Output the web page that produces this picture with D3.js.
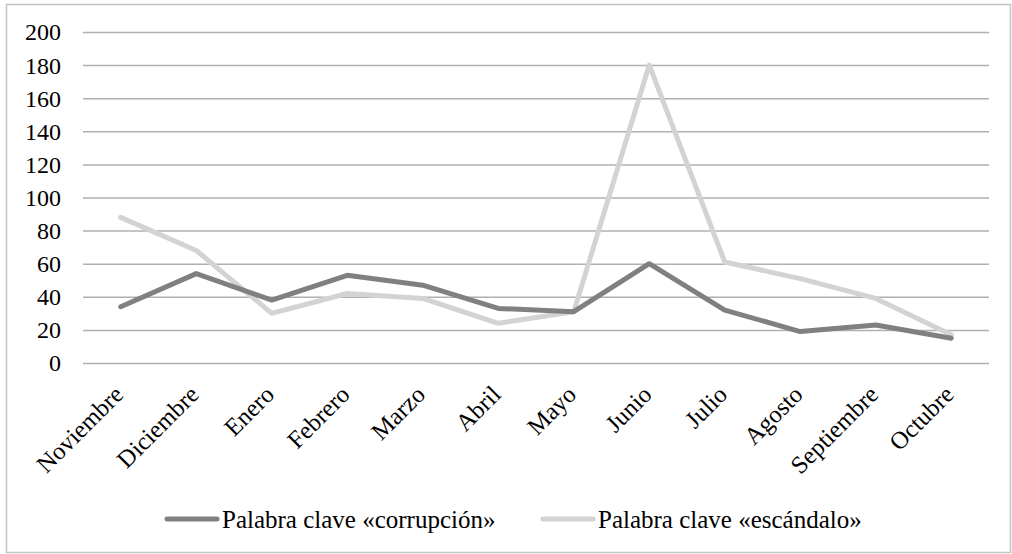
<!DOCTYPE html>
<html lang="es">
<head>
<meta charset="utf-8">
<title>Corrupción / escándalo</title>
<script src="https://d3js.org/d3.v7.min.js"></script>
<style>
  body { margin: 0; background: #fff; }
  svg text { font-family: "Liberation Serif", "DejaVu Serif", serif; fill: #000; }
  .grid line { stroke: #b0b0b0; stroke-width: 1.5; }
  .grid path { stroke: none; }
</style>
</head>
<body>
<script>
// months (x categories)
var months = ["Noviembre", "Diciembre", "Enero", "Febrero", "Marzo", "Abril",
              "Mayo", "Junio", "Julio", "Agosto", "Septiembre", "Octubre"];
// series values
var corrupcion = [34, 54, 38, 53, 47, 33, 31, 60, 32, 19, 23, 15];
var escandalo  = [88, 68, 30, 42, 39, 24, 31, 180, 61, 51, 39, 17];
var seriesNames = ["Palabra clave «corrupción»", "Palabra clave «escándalo»"];
var seriesColors = ["#808080", "#d3d3d3"];
var yTicks = [0, 20, 40, 60, 80, 100, 120, 140, 160, 180, 200];

var W = 1012, H = 554;
var plotL = 83, plotR = 989, plotT = 32, plotB = 363;

var svg = d3.select("body").append("svg")
  .attr("width", W).attr("height", H);

// outer frame
svg.append("rect")
  .attr("x", 6.5).attr("y", 4.5)
  .attr("width", 1004).attr("height", 548)
  .attr("fill", "#fff").attr("stroke", "#c4c4c4").attr("stroke-width", 1.5);

var x = d3.scaleBand().domain(months).range([plotL, plotR]);
var y = d3.scaleLinear().domain([0, 200]).range([plotB, plotT]);

// gridlines
svg.append("g")
  .attr("class", "grid")
  .attr("transform", "translate(" + plotL + ",0)")
  .call(d3.axisRight(y).tickValues(yTicks).tickSize(plotR - plotL).tickFormat(""));

// y labels
svg.selectAll(".ylab")
  .data(yTicks)
  .enter()
  .append("text")
  .attr("class", "ylab")
  .attr("x", 61)
  .attr("y", function(d) { return y(d); })
  .attr("dy", "0.35em")
  .attr("text-anchor", "end")
  .style("font-size", "24px")
  .text(function(d) { return d; });

// x labels, rotated
svg.selectAll(".xlab")
  .data(months)
  .enter()
  .append("text")
  .attr("class", "xlab")
  .attr("text-anchor", "end")
  .style("font-size", "24.6px")
  .attr("transform", function(d) {
    return "translate(" + (x(d) + x.bandwidth() / 2 + 4) + "," + 396 + ") rotate(-45)";
  })
  .text(function(d) { return d; });

// lines
var line = d3.line()
  .x(function(d, i) { return x(months[i]) + x.bandwidth() / 2; })
  .y(function(d) { return y(d); });

[escandalo, corrupcion].forEach(function(vals) {
  var idx = vals === corrupcion ? 0 : 1;
  svg.append("path")
    .datum(vals)
    .attr("fill", "none")
    .attr("stroke", seriesColors[idx])
    .attr("stroke-width", 5)
    .attr("stroke-linejoin", "round")
    .attr("stroke-linecap", "round")
    .attr("d", line);
});

// legend
var legendX = [167, 543];
var legend = svg.selectAll(".leg")
  .data(seriesNames)
  .enter()
  .append("g")
  .attr("class", "leg")
  .attr("transform", function(d, i) { return "translate(" + legendX[i] + ",519)"; });

legend.append("line")
  .attr("x1", 0).attr("x2", 50)
  .attr("stroke", function(d, i) { return seriesColors[i]; })
  .attr("stroke-width", 5)
  .attr("stroke-linecap", "round");

legend.append("text")
  .attr("x", 55)
  .attr("dy", "0.35em")
  .style("font-size", "25px")
  .text(function(d) { return d; });
</script>
</body>
</html>
